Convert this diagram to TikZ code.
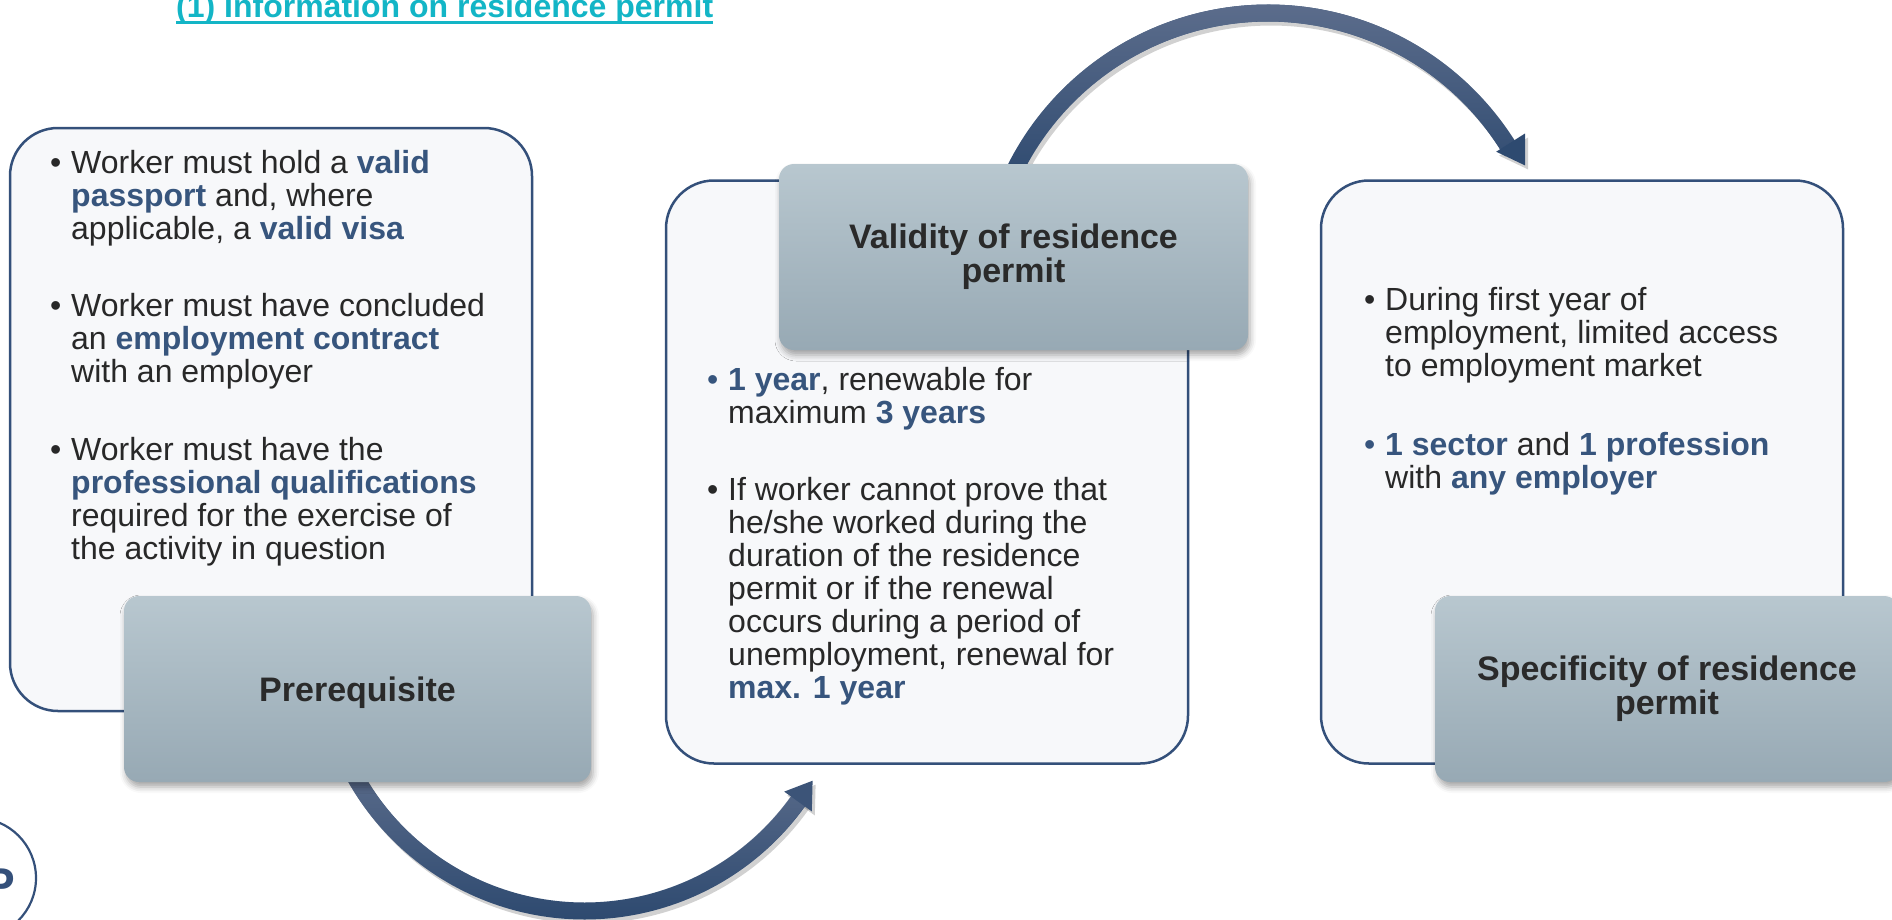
\documentclass[tikz,border=0pt]{standalone}
\usepackage{fontspec}
\setmainfont{Liberation Sans}
\usetikzlibrary{shadows.blur,fadings}

\definecolor{bodytxt}{HTML}{282828}
\definecolor{hlblue}{HTML}{37557D}
\definecolor{boxborder}{HTML}{34507A}
\definecolor{boxfill}{HTML}{F7F8FA}
\definecolor{labtop}{HTML}{B8C7CF}
\definecolor{labbot}{HTML}{97A9B4}
\definecolor{labtxt}{HTML}{2A2A2A}
\definecolor{arrowdark}{HTML}{2E4A70}
\definecolor{arrowlight}{HTML}{5C6D8C}
\definecolor{titlecol}{HTML}{13B5C6}

\tikzfading[name=topsolid, top color=transparent!0, bottom color=transparent!100]

\newcommand{\hl}[1]{\textbf{\color{hlblue}#1}}
\newcommand{\bul}{\makebox[19pt][l]{\hspace*{-2pt}\textbullet}}
\newcommand{\bulb}{\makebox[19pt][l]{\hspace*{-2pt}\color{hlblue}\textbullet}}
\newcommand{\ind}{\hspace*{19pt}}

\tikzset{
  bigbox/.style={draw=boxborder, line width=2.5pt, fill=boxfill, rounded corners=48pt,
    inner sep=0pt, minimum width=522pt, minimum height=583pt},
  labelbox/.style={rounded corners=15pt, top color=labtop, bottom color=labbot,
    inner sep=0pt, minimum height=186pt, align=center, text=labtxt,
    font=\fontsize{34}{34}\selectfont\bfseries,
    blur shadow={shadow xshift=2pt, shadow yshift=-5pt, shadow blur radius=6pt, shadow opacity=35}},
  bullets/.style={anchor=north west, inner sep=0pt, align=left, text=bodytxt,
    font=\fontsize{32}{33}\selectfont},
  band/.style={line width=17pt},
  bandshadow/.style={line width=17pt, black, opacity=0.18},
}

\begin{document}
\begin{tikzpicture}[x=1pt,y=-1pt]
\useasboundingbox (0,0) rectangle (1892,919);
\clip (0,0) rectangle (1892,919);

% title
\node[anchor=base west, inner sep=0pt, text=titlecol, font=\fontsize{32}{32}\selectfont\bfseries]
  (title) at (176,17) {(1) Information on residence permit};
\draw[titlecol, line width=3pt] ([yshift=-5pt]title.base west) -- ([yshift=-5pt]title.base east);

% logo circle
\node[circle, draw=boxborder, line width=2.2pt, minimum size=120pt, inner sep=0pt] (logo) at (-24,878) {};
\node[anchor=base, inner sep=0pt, text=boxborder, font=\fontsize{46}{46}\selectfont\bfseries]
  (logoP) at (-0.5,900) {P};

% ---------- box 1 ----------
\node[bigbox] (box1) at (271,419.5) {};
\node[bullets] (b1a) at (52,150) {\bul Worker must hold a \hl{valid}\\
  \ind\hl{passport} and, where\\
  \ind applicable, a \hl{valid visa}};
\node[bullets] (b1b) at (52,293) {\bul Worker must have concluded\\
  \ind an \hl{employment contract}\\
  \ind with an employer};
\node[bullets] (b1c) at (52,437) {\bul Worker must have the\\
  \ind\hl{professional qualifications}\\
  \ind required for the exercise of\\
  \ind the activity in question};

% bottom arrow
\draw[bandshadow] plot[domain=34.5:152, samples=90] ({587.5+263*cos(\x)},{652+263*sin(\x)});
\fill[black, opacity=0.18] (787.2,795.6) -- (814.8,815.4) -- (815.6,784.7) -- cycle;
\draw[band, arrowdark] plot[domain=34.5:152, samples=90] ({584.5+263*cos(\x)},{648+263*sin(\x)});
\draw[band, arrowlight, path fading=topsolid] plot[domain=34.5:152, samples=90] ({584.5+263*cos(\x)},{648+263*sin(\x)});
\fill[arrowdark!70!arrowlight] (784.2,791.6) -- (811.8,811.4) -- (812.6,780.7) -- cycle;

\node[labelbox, minimum width=467pt, text depth=0pt] (lab1) at (357.5,689) {Prerequisite};

% ---------- box 2 ----------
\node[bigbox] (box2) at (927,472) {};
\node[bullets] (b2a) at (709,367) {\bulb\hl{1 year}, renewable for\\
  \ind maximum \hl{3 years}};
\node[bullets] (b2b) at (709,477) {\bul If worker cannot prove that\\
  \ind he/she worked during the\\
  \ind duration of the residence\\
  \ind permit or if the renewal\\
  \ind occurs during a period of\\
  \ind unemployment, renewal for\\
  \ind\hl{max. 1 year}};

% top arrow
\draw[bandshadow] plot[domain=-155:-31.5, samples=90] ({1271+283*cos(\x)},{300+283*sin(\x)});
\fill[black, opacity=0.18] (1499.2,155.7) -- (1528,137.5) -- (1528,169.4) -- cycle;
\draw[band, arrowdark] plot[domain=-155:-31.5, samples=90] ({1268+283*cos(\x)},{296+283*sin(\x)});
\draw[band, arrowlight, path fading=topsolid] plot[domain=-155:-31.5, samples=90] ({1268+283*cos(\x)},{296+283*sin(\x)});
\fill[arrowdark] (1496.2,151.7) -- (1525,133.5) -- (1525,165.4) -- cycle;

\node[labelbox, minimum width=469pt] (lab2) at (1013.5,257) {Validity of residence\\permit};

% ---------- box 3 ----------
\node[bigbox] (box3) at (1582,472) {};
\node[bullets] (b3a) at (1366,287) {\bul During first year of\\
  \ind employment, limited access\\
  \ind to employment market};
\node[bullets] (b3b) at (1366,432) {\bulb\hl{1 sector} and \hl{1 profession}\\
  \ind with \hl{any employer}};

\node[labelbox, minimum width=464pt] (lab3) at (1667,689) {Specificity of residence\\permit};
\end{tikzpicture}
\end{document}
